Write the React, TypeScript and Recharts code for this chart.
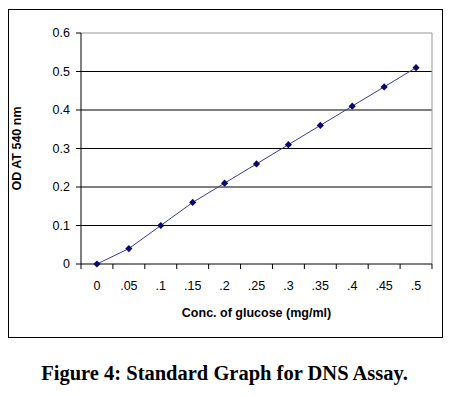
import React from 'react';
import {
  LineChart, Line, XAxis, YAxis, CartesianGrid, ReferenceLine, Label
} from 'recharts';

const conc = [0, 0.05, 0.1, 0.15, 0.2, 0.25, 0.3, 0.35, 0.4, 0.45, 0.5];
const od = [0, 0.04, 0.1, 0.16, 0.21, 0.26, 0.31, 0.36, 0.41, 0.46, 0.51];
const xTickLabels = ['0', '.05', '.1', '.15', '.2', '.25', '.3', '.35', '.4', '.45', '.5'];
const yTicks = [0, 0.1, 0.2, 0.3, 0.4, 0.5, 0.6];

const data = conc.map((c, i) => ({ conc: c, od: od[i] }));

const font = '"Liberation Sans", Arial, sans-serif';
const HALF = 15.95;

function XTick(props: any) {
  const { x, y, payload, index } = props;
  const label = xTickLabels[index] ?? String(payload.value);
  return (
    <g>
      <line x1={x - HALF} y1={y - 8} x2={x - HALF} y2={y - 3} stroke="#000" />
      {index === conc.length - 1 && (
        <line x1={x + HALF} y1={y - 8} x2={x + HALF} y2={y - 3} stroke="#000" />
      )}
      <text x={x} y={y + 18} textAnchor="middle" fontSize={12.5} fontFamily={font} fill="#000">
        {label}
      </text>
    </g>
  );
}

function Diamond(props: any) {
  const { cx, cy } = props;
  if (cx == null || cy == null) return null;
  const r = 3.6;
  return (
    <polygon
      points={`${cx},${cy - r} ${cx + r},${cy} ${cx},${cy + r} ${cx - r},${cy}`}
      fill="#0a0a6e"
    />
  );
}

export default function App() {
  return (
    <div style={{ position: 'absolute', left: 0, top: 0, width: 449, height: 397, background: '#fff' }}>
      <div style={{
        position: 'absolute', left: 8, top: 9, width: 433, height: 327,
        border: '1.5px solid #000'
      }} />
      <div style={{ position: 'absolute', left: 0, top: 0 }}>
        <LineChart width={449} height={340} data={data}
          margin={{ top: 33, right: 17, bottom: 26, left: 20 }}>
          <CartesianGrid vertical={false} stroke="#000" strokeWidth={1}
            horizontalValues={[0.1, 0.2, 0.3, 0.4, 0.5]} />
          <ReferenceLine y={0.6} stroke="#999" />
          <ReferenceLine x={0.525} stroke="#999" />
          <XAxis dataKey="conc" type="number" domain={[-0.025, 0.525]} ticks={conc}
            height={50} stroke="#000" tickLine={false} tick={<XTick />} interval={0}>
            <Label value="Conc. of glucose (mg/ml)" position="insideBottom" offset={-3}
              style={{ fontFamily: font, fontSize: 12.5, fontWeight: 'bold', fill: '#000' }} />
          </XAxis>
          <YAxis type="number" domain={[0, 0.6]} ticks={yTicks} width={61} stroke="#000"
            tickSize={5} tickMargin={6} tickFormatter={(v: number) => String(v)}
            tick={{ fontFamily: font, fontSize: 12.5, fill: '#000' }}>
            <Label value="OD AT 540 nm" angle={-90} position="insideLeft" offset={-3}
              style={{ fontFamily: font, fontSize: 12.5, fontWeight: 'bold', fill: '#000', textAnchor: 'middle' }} />
          </YAxis>
          <Line type="linear" dataKey="od" stroke="#3a3a9a" strokeWidth={1}
            dot={<Diamond />} activeDot={false} isAnimationActive={false} />
        </LineChart>
      </div>
      <div style={{
        position: 'absolute', left: 0, top: 362, width: 449, textAlign: 'center',
        fontFamily: '"Liberation Serif", "Times New Roman", serif', fontWeight: 'bold', fontSize: 20.5
      }}>
        Figure 4: Standard Graph for DNS Assay.
      </div>
    </div>
  );
}
